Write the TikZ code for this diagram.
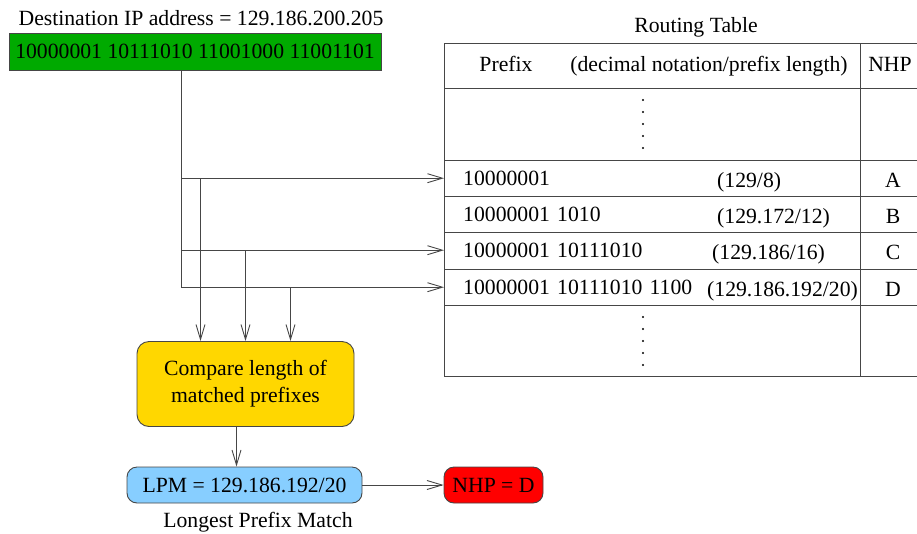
\documentclass[tikz,border=0pt]{standalone}
\usepackage{fontspec}
\setmainfont{Liberation Serif}
\usetikzlibrary{arrows.meta}

\definecolor{ipgreen}{RGB}{0,170,0}
\definecolor{cmpgold}{RGB}{255,215,0}
\definecolor{lpmblue}{RGB}{135,206,255}
\definecolor{nhpred}{RGB}{255,0,0}
\definecolor{edgegray}{RGB}{70,70,70}

\tikzset{
  every node/.style={font=\fontsize{21.7}{27}\selectfont, inner sep=0pt},
  link/.style={draw=edgegray, line width=0.9pt, -{Straight Barb[length=15pt,width=9pt]}},
  rule/.style={draw=edgegray, line width=0.9pt},
  box/.style={draw=edgegray, line width=0.9pt, rounded corners=12pt, align=center},
  rowcell/.style={anchor=north west, minimum height=36pt, inner xsep=19pt,
    text width=378pt, align=left},
}

\begin{document}
\begin{tikzpicture}[x=1pt,y=-1pt]
  \clip (0,0) rectangle (917,533);

  % destination address
  \node (title) at (201,18) {Destination IP address = 129.186.200.205};
  \node[draw=edgegray, line width=0.9pt, fill=ipgreen, minimum width=372pt,
    minimum height=37pt] (ip) at (195,51.5) {10000001 10111010 11001000 11001101};

  % routing table
  \node (tabtitle) at (696,27) {Routing Table};
  \draw[rule] (930,43) -- (444,43) -- (444,376) -- (930,376);
  \foreach \y in {88,160,196,232,269,305}
    \draw[rule] (444,\y) -- (930,\y);
  \draw[rule] (860,43) -- (860,376);

  \node[anchor=base] at (506,71) {Prefix};
  \node[anchor=base] at (709,71) {(decimal notation/prefix length)};
  \node[anchor=base] at (890,71) {NHP};

  \node[rowcell] (rowA) at (444,160) {10000001};
  \node[rowcell] (rowB) at (444,196) {10000001 1010};
  \node[rowcell] (rowC) at (444,232) {10000001 10111010};
  \node[rowcell] (rowD) at (444,269) {10000001 10111010 1100};

  \node[anchor=base west] at (717,187) {(129/8)};
  \node[anchor=base west] at (717,223) {(129.172/12)};
  \node[anchor=base west] at (712,259) {(129.186/16)};
  \node[anchor=base west] at (707,296) {(129.186.192/20)};

  \node[anchor=base] at (893,187) {A};
  \node[anchor=base] at (893,223) {B};
  \node[anchor=base] at (893,259) {C};
  \node[anchor=base] at (893,296) {D};

  % dots for the rows left out
  \foreach \y in {100,112,...,148}
    \fill (643,\y) circle (1.2);
  \foreach \y in {317,329,...,365}
    \fill (643,\y) circle (1.2);

  % decision boxes
  \node[box, fill=cmpgold, minimum width=217pt, minimum height=85pt] (cmp)
    at (245.5,384) {Compare length of\\matched prefixes};
  \node[box, fill=lpmblue, minimum width=235pt, minimum height=36pt,
    rounded corners=10pt] (lpm) at (244.5,485) {LPM = 129.186.192/20};
  \node[box, fill=nhpred, minimum width=99pt, minimum height=36pt,
    rounded corners=10pt] (nhp) at (493.5,485) {NHP = D};
  \node[anchor=base] (lpmlabel) at (258,527) {Longest Prefix Match};

  % lookups against the table
  \coordinate (tap) at ([xshift=-14pt]ip.south);
  \draw[rule] (tap) -- (tap |- rowD.west);
  \foreach \r in {rowA,rowC,rowD}
    \draw[link] (tap |- \r.west) -- (\r.west);

  % matched prefixes go to the comparison
  \draw[link] ([xshift=-45pt]cmp.north |- rowA.west) -- ([xshift=-45pt]cmp.north);
  \draw[link] (cmp.north |- rowC.west) -- (cmp.north);
  \draw[link] ([xshift=45pt]cmp.north |- rowD.west) -- ([xshift=45pt]cmp.north);

  \draw[link] ([xshift=-9pt]cmp.south) -- ([xshift=-9pt]cmp.south |- lpm.north);
  \draw[link] (lpm) -- (nhp);
\end{tikzpicture}
\end{document}
